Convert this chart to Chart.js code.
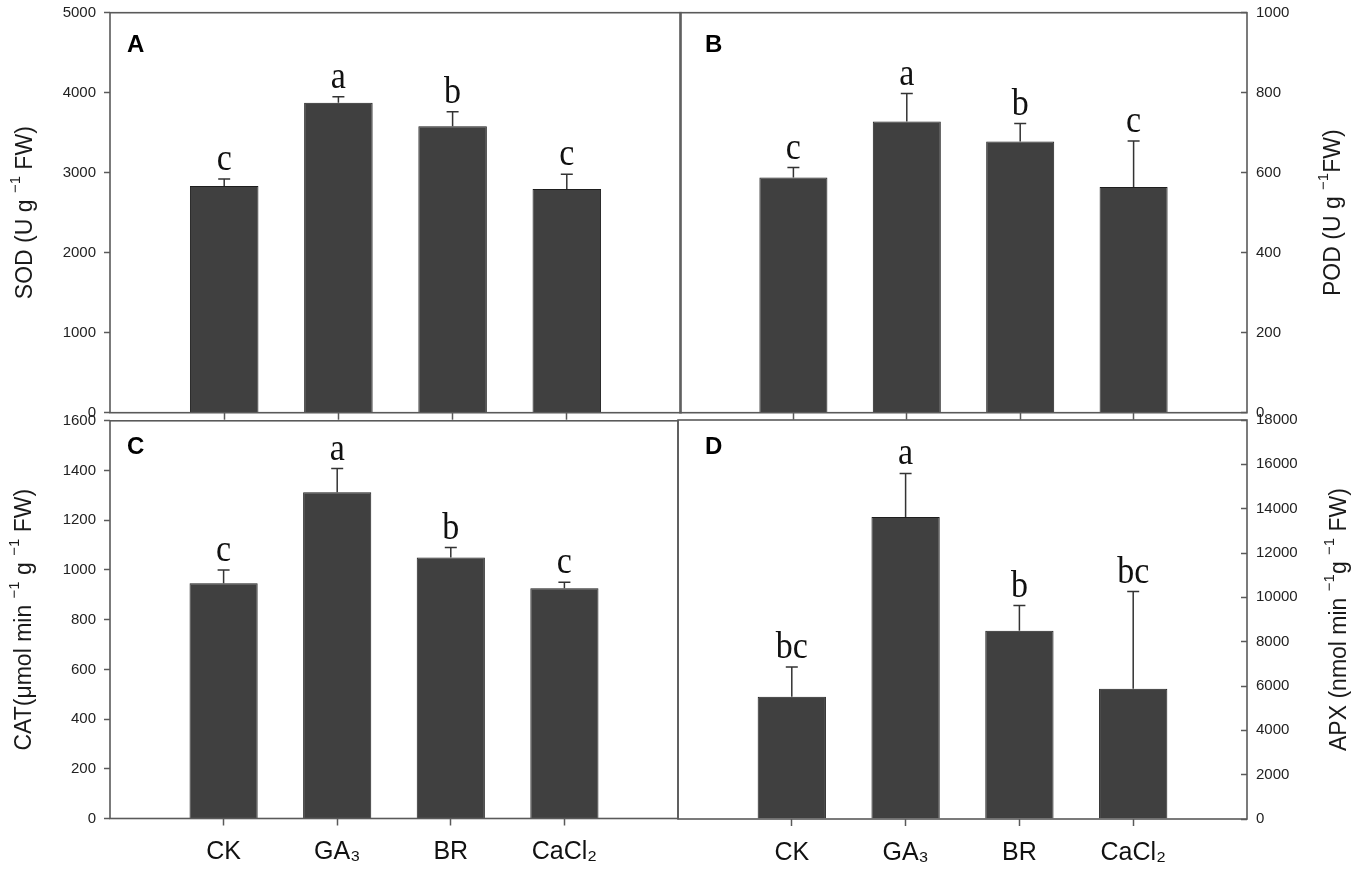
<!DOCTYPE html>
<html>
<head>
<meta charset="utf-8">
<script src="https://cdn.jsdelivr.net/npm/chart.js@4.4.1/dist/chart.umd.min.js"></script>
<style>
  body { margin: 0; background: #fff; width: 1358px; height: 869px; position: relative; overflow: hidden; }
  canvas { position: absolute; }
</style>
</head>
<body>
<canvas id="chartA" width="700" height="430" style="left:0;top:0"></canvas>
<canvas id="chartB" width="698" height="430" style="left:660px;top:0"></canvas>
<canvas id="chartC" width="700" height="469" style="left:0;top:400px"></canvas>
<canvas id="chartD" width="698" height="469" style="left:660px;top:400px"></canvas>
<script>
// treatments (blank slots at both ends keep the axis 5 slots wide)
const treatments = ["CK", "GA₃", "BR", "CaCl₂"];
const slotLabels = ["", ...treatments, ""];

// A: SOD
const sodMean = [2834, 3875, 3580, 2796];
const sodErr = [87, 75, 183, 184];
const sodLetters = ["c", "a", "b", "c"];
const sodMax = 5000, sodStep = 1000;

// B: POD
const podMean = [588, 728, 678, 564];
const podErr = [25, 70, 45, 115];
const podLetters = ["c", "a", "b", "c"];
const podMax = 1000, podStep = 200;

// C: CAT
const catMean = [946, 1313, 1050, 926];
const catErr = [54, 95, 40, 24];
const catLetters = ["c", "a", "b", "c"];
const catMax = 1600, catStep = 200;

// D: APX
const apxMean = [5520, 13620, 8490, 5880];
const apxErr = [1340, 1970, 1140, 4380];
const apxLetters = ["bc", "a", "b", "bc"];
const apxMax = 18000, apxStep = 2000;

const SANS = "'Liberation Sans', Arial, sans-serif";
const SERIF = "'Liberation Serif', 'Times New Roman', serif";
const axisColor = "#5a5a5a";

// frame round the plot area
const framePlugin = {
  id: "frame",
  afterDraw(chart) {
    const { ctx, chartArea: a } = chart;
    ctx.save();
    ctx.strokeStyle = axisColor;
    ctx.lineWidth = 1.6;
    ctx.strokeRect(a.left, a.top, a.right - a.left, a.bottom - a.top);
    ctx.restore();
  },
};

// upper error bars and significance letters
const errorPlugin = {
  id: "errorBars",
  afterDatasetsDraw(chart, args, opts) {
    const { ctx } = chart;
    const y = chart.scales.y;
    const meta = chart.getDatasetMeta(0);
    ctx.save();
    ctx.strokeStyle = "#333";
    ctx.lineWidth = 1.5;
    ctx.fillStyle = "#111";
    ctx.font = "34px " + SERIF;
    ctx.textAlign = "center";
    ctx.textBaseline = "alphabetic";
    opts.mean.forEach((m, i) => {
      const bar = meta.data[i + 1];
      const top = y.getPixelForValue(m + opts.err[i]);
      ctx.beginPath();
      ctx.moveTo(bar.x, bar.y);
      ctx.lineTo(bar.x, top);
      ctx.moveTo(bar.x - 6, top);
      ctx.lineTo(bar.x + 6, top);
      ctx.stroke();
      ctx.save();
      ctx.translate(bar.x, top - 9);
      ctx.scale(1, 1.12);
      ctx.fillText(opts.letters[i], 0, 0);
      ctx.restore();
    });
    ctx.restore();
  },
};

// panel letter and rotated axis title (reads bottom to top on both sides)
function drawRich(ctx, parts, size) {
  const widths = parts.map((p) => {
    ctx.font = (p.sup ? Math.round(size * 0.65) : size) + "px " + SANS;
    return ctx.measureText(p.t).width;
  });
  let x = -widths.reduce((s, w) => s + w, 0) / 2;
  parts.forEach((p, i) => {
    ctx.font = (p.sup ? Math.round(size * 0.65) : size) + "px " + SANS;
    ctx.fillText(p.t, x, p.sup ? -size * 0.42 : 0);
    x += widths[i];
  });
}

const labelPlugin = {
  id: "panelText",
  afterDraw(chart, args, opts) {
    const { ctx, chartArea: a } = chart;
    ctx.save();
    ctx.fillStyle = "#000";
    ctx.font = "bold 24px " + SANS;
    ctx.textAlign = "left";
    ctx.textBaseline = "alphabetic";
    ctx.fillText(opts.panel, a.left + opts.panelDx, a.top + opts.panelDy);
    ctx.translate(opts.titleX, (a.top + a.bottom) / 2);
    ctx.rotate(-Math.PI / 2);
    ctx.fillStyle = "#1a1a1a";
    ctx.textAlign = "left";
    ctx.textBaseline = "middle";
    drawRich(ctx, opts.title, 23);
    ctx.restore();
  },
};

function makePanel(id, p) {
  const right = p.side === "right";
  new Chart(document.getElementById(id), {
    type: "bar",
    data: {
      labels: slotLabels,
      datasets: [
        {
          data: [null, ...p.mean, null],
          backgroundColor: "#404040",
          borderColor: "#1e1e1e",
          borderWidth: 1,
          categoryPercentage: 1,
          barPercentage: 0.6,
        },
      ],
    },
    options: {
      responsive: false,
      animation: false,
      events: [],
      layout: { padding: p.padding },
      plugins: {
        legend: { display: false },
        tooltip: { enabled: false },
        errorBars: { mean: p.mean, err: p.err, letters: p.letters },
        panelText: { panel: p.panel, panelDx: p.panelDx, panelDy: p.panelDy, title: p.title, titleX: p.titleX },
      },
      scales: {
        x: {
          type: "category",
          offset: false,
          border: { display: false },
          grid: {
            offset: false,
            drawOnChartArea: false,
            tickLength: 7,
            tickWidth: 1.5,
            tickColor: (c) => (c.index === 0 || c.index === slotLabels.length - 1 ? "rgba(0,0,0,0)" : axisColor),
          },
          ticks: {
            display: p.showX,
            autoSkip: false,
            maxRotation: 0,
            padding: 12,
            color: "#111",
            font: { family: SANS, size: 25 },
          },
          afterFit: (s) => {
            s.height = p.xHeight;
            s.paddingLeft = 0;
            s.paddingRight = 0;
          },
        },
        y: {
          position: p.side,
          min: 0,
          max: p.max,
          border: { display: false },
          grid: {
            drawOnChartArea: false,
            tickLength: right ? -6 : 6,
            tickWidth: 1.5,
            tickColor: axisColor,
          },
          ticks: {
            stepSize: p.step,
            padding: right ? 15 : 8,
            color: "#222",
            font: { family: SANS, size: 15 },
            callback: (v) => String(v),
          },
          afterFit: (s) => {
            s.width = p.yWidth;
            s.paddingTop = 0;
            s.paddingBottom = 0;
          },
        },
      },
    },
    plugins: [errorPlugin, framePlugin, labelPlugin],
  });
}

makePanel("chartA", {
  mean: sodMean, err: sodErr, letters: sodLetters, max: sodMax, step: sodStep,
  side: "left", showX: false, panel: "A", panelDx: 17, panelDy: 39,
  padding: { top: 12.7, right: 19, left: 0, bottom: 0 }, xHeight: 17.3, yWidth: 110,
  titleX: 26,
  title: [{ t: "SOD (U g " }, { t: "−1", sup: true }, { t: " FW)" }],
});

makePanel("chartB", {
  mean: podMean, err: podErr, letters: podLetters, max: podMax, step: podStep,
  side: "right", showX: false, panel: "B", panelDx: 25, panelDy: 39,
  padding: { top: 12.7, right: 0, left: 20, bottom: 0 }, xHeight: 17.3, yWidth: 111,
  titleX: 674,
  title: [{ t: "POD (U g " }, { t: "−1", sup: true }, { t: "FW)" }],
});

makePanel("chartC", {
  mean: catMean, err: catErr, letters: catLetters, max: catMax, step: catStep,
  side: "left", showX: true, panel: "C", panelDx: 17, panelDy: 33,
  padding: { top: 20.8, right: 22, left: 0, bottom: 0 }, xHeight: 50.5, yWidth: 110,
  titleX: 25,
  title: [{ t: "CAT(μmol min " }, { t: "−1", sup: true }, { t: " g " }, { t: "−1", sup: true }, { t: " FW)" }],
});

makePanel("chartD", {
  mean: apxMean, err: apxErr, letters: apxLetters, max: apxMax, step: apxStep,
  side: "right", showX: true, panel: "D", panelDx: 27, panelDy: 34,
  padding: { top: 20, right: 0, left: 18, bottom: 0 }, xHeight: 50, yWidth: 111,
  titleX: 680,
  title: [{ t: "APX (nmol min " }, { t: "−1", sup: true }, { t: "g " }, { t: "−1", sup: true }, { t: " FW)" }],
});
</script>
</body>
</html>
